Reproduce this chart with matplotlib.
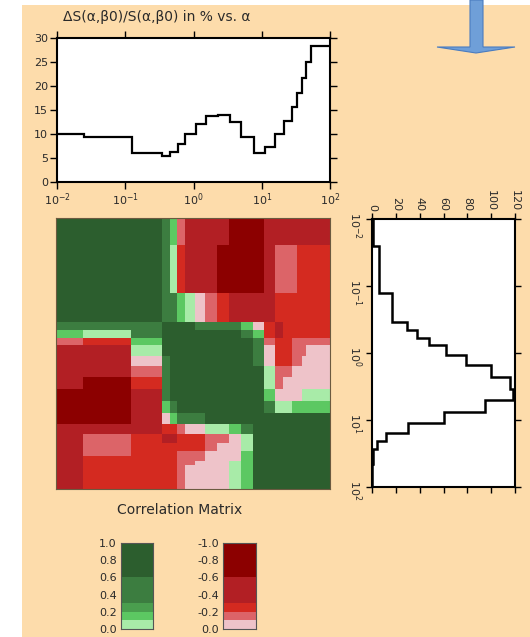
import numpy as np
import matplotlib
matplotlib.use("Agg")
import matplotlib.pyplot as plt
from matplotlib.colors import ListedColormap, BoundaryNorm
from matplotlib.patches import Rectangle, Polygon

plt.rcParams['font.family'] = ['DejaVu Sans']
plt.rcParams['text.color'] = '#2a2a2a'
plt.rcParams['xtick.labelcolor'] = '#2a2a2a'
plt.rcParams['ytick.labelcolor'] = '#2a2a2a'

# bin edges in alpha (log spaced)
alpha_edges = [0.01, 0.0251, 0.126, 0.347, 0.457, 0.589, 0.759, 1.08, 1.51, 2.26,
               3.39, 5.01, 7.59, 11.0, 15.5, 20.9, 27.5, 32.7, 38.9, 44.7, 52.5, 100.0]
# dS/S in % per bin
rel_error = [10.1, 9.4, 6.1, 5.4, 6.3, 7.9, 10.0, 12.1, 13.7, 14.0, 12.6,
             9.3, 6.1, 7.3, 10.0, 12.8, 15.7, 18.5, 21.6, 24.9, 28.3]
# counts per bin (right histogram)
counts = [1, 6, 17, 29, 38, 48, 62, 79, 100, 116, 118, 95, 60, 30, 12, 4, 1, 1, 1, 0, 0]

# correlation matrix, one letter per cell
code_value = {'G': 0.8, 'M': 0.45, 'L': 0.25, 'l': 0.15, 'p': 0.05,
              'k': -0.05, 'r': -0.15, 'R': -0.25, 'F': -0.45, 'D': -0.8}
corr_rows = [
    "GGGMlrFFFFDDDFFFFFFFF",
    "GGGMpRFFFDDDDFrrrRRRR",
    "GGGMMlpkrRFFFFRRRRRRR",
    "MMMGGGGMMMMlkRFRRRRRR",
    "lpMGGGGGGGGMlRFRRRRRR",
    "rRlGGGGGGGGGMrRRrrrrr",
    "FFpGGGGGGGGGMkRRrrrkk",
    "FFkMGGGGGGGGMkRRrrkkk",
    "FFrMGGGGGGGGGprrkkkkk",
    "FDRMGGGGGGGGGprkkkkkk",
    "DDFMGGGGGGGGGlkkkkppp",
    "DDFlMGGGGGGGGMpplllll",
    "DDFklMMMGGGGGGGGGGGGG",
    "FFFRRrkkpplMGGGGGGGGG",
    "FrRFFRRRrrkpGGGGGGGGG",
    "FrRRRRRRrkkpGGGGGGGGG",
    "FrRRRrrrkkklGGGGGGGGG",
    "FRRRRrrrkkklGGGGGGGGG",
    "FRRRRrrkkkplGGGGGGGGG",
    "FRRRRrkkkkplGGGGGGGGG",
    "FRRRRrkkkkplGGGGGGGGG",
]

levels = [-1.0, -0.6, -0.3, -0.2, -0.1, 0.0, 0.1, 0.2, 0.3, 0.6, 1.0]
level_colors = ['#8c0000', '#b21f24', '#d42a20', '#dc6468', '#eec3c9',
                '#a8eba8', '#5cc862', '#4a9e4e', '#3c7d40', '#2c5e2e']
pos_ticks = [0.0, 0.2, 0.4, 0.6, 0.8, 1.0]
neg_ticks = [0.0, -0.2, -0.4, -0.6, -0.8, -1.0]

corr = np.array([[code_value[c] for c in row] for row in corr_rows])
cmap = ListedColormap(level_colors)
norm = BoundaryNorm(levels, cmap.N)

W, H = 530, 637
fig = plt.figure(figsize=(W / 100, H / 100), dpi=100, facecolor='white')
bg = '#fddcab'
fig.patches.append(Rectangle((22 / W, 0), 1 - 22 / W, 1 - 5 / H, transform=fig.transFigure,
                             facecolor=bg, edgecolor='none', zorder=-10))


def px_axes(x0, y0, x1, y1):
    return fig.add_axes([x0 / W, 1 - y1 / H, (x1 - x0) / W, (y1 - y0) / H])


fs = 8

# ---- top plot
ax1 = px_axes(57, 38, 330, 182)
ax1.stairs(rel_error, alpha_edges, baseline=None, color='black', lw=1.6)
ax1.set_xscale('log')
ax1.set_xlim(0.01, 100)
ax1.set_ylim(0, 30)
ax1.set_yticks(range(0, 31, 5))
ax1.xaxis.set_minor_locator(plt.NullLocator())
ax1.tick_params(direction='out', top=True, right=True, length=5, width=1,
                labelsize=fs, pad=1.5)
for s in ax1.spines.values():
    s.set_linewidth(1.5)
fig.text(157 / W, 1 - 17 / H, 'ΔS(α,β0)/S(α,β0) in % vs. α', ha='center', va='center',
         fontsize=10)

# ---- correlation matrix
ax2 = px_axes(56, 218, 330, 489)
ax2.pcolormesh(alpha_edges, alpha_edges, corr, cmap=cmap, norm=norm)
ax2.set_xscale('log')
ax2.set_yscale('log')
ax2.set_xlim(0.01, 100)
ax2.set_ylim(100, 0.01)
ax2.set_xticks([])
ax2.set_yticks([])
ax2.minorticks_off()
for s in ax2.spines.values():
    s.set_linewidth(0.8)
    s.set_color('#6b5a40')

# ---- right histogram (rotated)
ax3 = px_axes(372, 219, 515, 487)
ax3.stairs(counts, alpha_edges, orientation='horizontal', baseline=None,
           color='black', lw=1.8)
ax3.set_yscale('log')
ax3.set_ylim(100, 0.01)
ax3.set_xlim(0, 120)
ax3.set_xticks(range(0, 121, 20))
ax3.yaxis.set_minor_locator(plt.NullLocator())
ax3.tick_params(direction='out', top=True, right=True, length=4.5, width=1,
                labelsize=fs, pad=1.5)
ax3.tick_params(axis='x', labeltop=True, labelbottom=False, labelrotation=-90)
ax3.tick_params(axis='y', labelrotation=-90)
for s in ax3.spines.values():
    s.set_linewidth(1.5)

# ---- colour bars
fig.text(180 / W, 1 - 510 / H, 'Correlation Matrix', ha='center', va='center',
         fontsize=10)

axg = px_axes(121, 543, 153, 629)
axg.pcolormesh([0, 1], levels[5:], np.array(levels[5:-1])[:, None] + 0.01, cmap=cmap, norm=norm)
axg.set_xlim(0, 1)
axg.set_ylim(0, 1)
axg.set_xticks([])
axg.set_yticks(pos_ticks)
axg.set_yticklabels([f'{v:.1f}' for v in pos_ticks])

axr = px_axes(223, 543, 256, 629)
axr.pcolormesh([0, 1], levels[:6], np.array(levels[:5])[:, None] + 0.01, cmap=cmap, norm=norm)
axr.set_xlim(0, 1)
axr.set_ylim(0, -1)
axr.set_xticks([])
axr.set_yticks(neg_ticks)
axr.set_yticklabels([f'{v:.1f}'.replace('-0.0', '0.0') for v in neg_ticks])

for a in (axg, axr):
    a.tick_params(axis='y', length=0, labelsize=fs, pad=3)
    for s in a.spines.values():
        s.set_linewidth(0.8)
        s.set_color('#555555')

# ---- blue arrow
arrow_px = [(470, 0), (483, 0), (483, 47), (515, 47), (476, 53), (437, 47), (470, 47)]
fig.patches.append(Polygon([(x / W, 1 - y / H) for x, y in arrow_px], closed=True,
                           transform=fig.transFigure, facecolor='#6f9fd8',
                           edgecolor='#4a7cc0', lw=0.8, zorder=5))

fig.savefig('out.png', dpi=100, facecolor=fig.get_facecolor())
